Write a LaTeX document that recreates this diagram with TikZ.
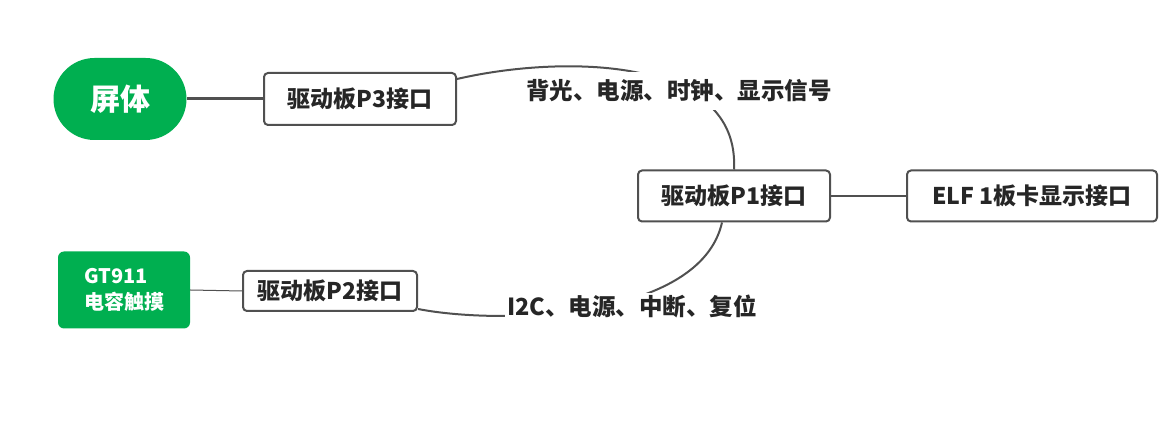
\documentclass[tikz,border=0pt]{standalone}
\usepackage{fontspec}
\setmainfont{Noto Sans CJK SC}
\usetikzlibrary{calc}
\definecolor{mgreen}{RGB}{0,175,80}
\definecolor{mgray}{RGB}{80,80,80}
\definecolor{mtext}{RGB}{38,38,38}

\begin{document}
\begin{tikzpicture}[x=1pt,y=1pt,
  box/.style={draw=mgray,line width=2pt,rounded corners=4pt,fill=white,
    text=mtext,font=\fontsize{23}{26}\selectfont\bfseries,inner sep=0pt},
  gbox/.style={fill=mgreen,text=white,inner sep=0pt},
  lbl/.style={fill=white,text=mtext,font=\fontsize{23.5}{26}\selectfont\bfseries,inner xsep=2pt},
  link/.style={draw=mgray,line width=2pt}]
% display link mind map
\useasboundingbox (0,0) rectangle (1173,423);
\node[gbox,minimum width=133pt,minimum height=82pt,rounded corners=41pt,
  font=\fontsize{30}{32}\selectfont\bfseries] (screen) at (120,324) {屏体};
\node[box,minimum width=192pt,minimum height=52pt] (p3) at (360,324) {驱动板P3接口};
\node[box,minimum width=192pt,minimum height=51pt] (p1) at (734,227) {驱动板P1接口};
\node[box,minimum width=250pt,minimum height=51pt] (elf) at (1032,227) {ELF 1板卡显示接口};
\node[gbox,minimum width=132pt,minimum height=77pt,rounded corners=6pt,align=left,
  font=\fontsize{20}{26}\selectfont\bfseries] (gt) at (124,133) {GT911\\电容触摸};
\node[box,minimum width=174pt,minimum height=40pt] (p2) at (330,132) {驱动板P2接口};

\draw[link,line width=3pt] (screen.east) -- (p3.west);
\draw[link] (p1.east) -- (elf.west);
\draw[link,line width=1pt] (gt.east) -- (p2.west);
\draw[link] ([yshift=-7pt]p3.north east) .. controls (560,368) and (740,368) .. (p1.north);
\draw[link] ([yshift=3pt]p2.south east) .. controls (500,98) and (700,103) .. ([xshift=-12pt]p1.south);

\node[lbl,inner ysep=8pt] (sig3) at (679,332) {背光、电源、时钟、显示信号};
\node[lbl,inner ysep=1pt] (sig2) at (632,117) {I2C、电源、中断、复位};
\end{tikzpicture}
\end{document}
